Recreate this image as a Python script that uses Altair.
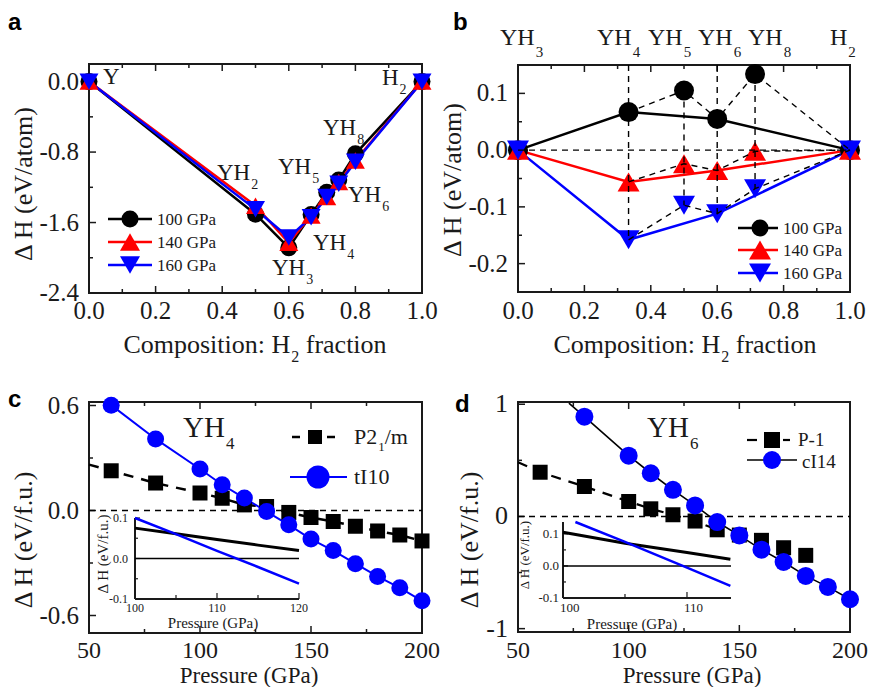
import altair as alt
import pandas as pd

SERIF = "Liberation Serif"
SANS = "Liberation Sans"
INK = "#1a1a1a"

# ---------------- data ----------------
pressures = ["100 GPa", "140 GPa", "160 GPa"]
series_colors = ["#000000", "#ff0000", "#0000ff"]
series_shapes = ["circle", "triangle-up", "triangle-down"]

# panel a : Y-H convex hull, x = H2 fraction
comp_a = [0.0, 0.5, 0.6, 0.667, 0.714, 0.75, 0.8, 1.0]
dH_a_100 = [0.0, -1.505, -1.886, -1.51, -1.257, -1.116, -0.82, 0.0]
dH_a_140 = [0.0, -1.41, -1.83, -1.52, -1.31, -1.14, -0.895, 0.0]
dH_a_160 = [0.0, -1.45, -1.77, -1.54, -1.31, -1.16, -0.91, 0.0]

# panel b : YH3-H2 sub-system
comp_b = [0.0, 0.333, 0.5, 0.6, 0.714, 1.0]
dH_b_100 = [0.0, 0.067, 0.105, 0.055, 0.134, 0.0]
dH_b_140 = [0.0, -0.056, -0.024, -0.036, -0.002, 0.0]
dH_b_160 = [0.0, -0.158, -0.097, -0.112, -0.068, 0.0]
hull_b = [True, True, False, True, False, True]
drop_x_b = [0.333, 0.5, 0.6, 0.714]
drop_top_b = [0.15, 0.105, 0.15, 0.134]
drop_bot_b = [-0.158, -0.097, -0.112, -0.068]

# panel c : YH4
P_c = [60, 80, 100, 110, 120, 130, 140, 150, 160, 170, 180, 190, 200]
dH_c_P21m = [0.227, 0.157, 0.100, 0.070, 0.032, 0.023, -0.011, -0.040, -0.063, -0.090, -0.117, -0.140, -0.174]
dH_c_tI10 = [0.602, 0.409, 0.237, 0.147, 0.071, -0.006, -0.082, -0.163, -0.229, -0.304, -0.377, -0.442, -0.516]
P_c_P21m_line = [50, 60, 80, 100, 110, 120, 130, 140, 150, 160, 170, 180, 190, 200]
dH_c_P21m_line = [0.262, 0.227, 0.157, 0.100, 0.070, 0.032, 0.023, -0.011, -0.040, -0.063, -0.090, -0.117, -0.140, -0.174]

# panel d : YH6
P_d_P1 = [60, 80, 100, 110, 120, 130, 140, 150, 160, 170, 180]
dH_d_P1 = [0.394, 0.267, 0.133, 0.068, 0.015, -0.041, -0.119, -0.166, -0.213, -0.279, -0.347]
P_d_cI14 = [80, 100, 110, 120, 130, 140, 150, 160, 170, 180, 190, 200]
dH_d_cI14 = [0.889, 0.542, 0.385, 0.237, 0.098, -0.050, -0.169, -0.296, -0.406, -0.530, -0.628, -0.738]
P_d_P1_line = [50, 60, 80, 100, 110, 120, 130, 140]
dH_d_P1_line = [0.483, 0.394, 0.267, 0.133, 0.068, 0.015, -0.041, -0.119]
P_d_cI14_line = [73, 80, 100, 110, 120, 130, 140, 150, 160, 170, 180, 190, 200]
dH_d_cI14_line = [1.01, 0.889, 0.542, 0.385, 0.237, 0.098, -0.050, -0.169, -0.296, -0.406, -0.530, -0.628, -0.738]

# insets
P_ic = [100, 105, 110, 115, 120]
dH_ic_P21m = [0.075, 0.061, 0.047, 0.033, 0.020]
dH_ic_tI10 = [0.100, 0.060, 0.019, -0.021, -0.062]
P_id_P1 = [100, 105, 110, 113.5]
dH_id_P1 = [0.105, 0.071, 0.042, 0.021]
P_id_cI14 = [101, 105, 110, 113.5]
dH_id_cI14 = [0.137, 0.075, -0.005, -0.062]

# ticks
comp_ticks_major = [0.0, 0.2, 0.4, 0.6, 0.8, 1.0]
comp_ticks_minor = [0.1, 0.3, 0.5, 0.7, 0.9]
comp_tick_labels = ["0.0", "0.2", "0.4", "0.6", "0.8", "1.0"]
a_y_major = [-2.4, -1.6, -0.8, 0.0]
a_y_minor = [-2.0, -1.2, -0.4]
a_y_labels = ["-2.4", "-1.6", "-0.8", "0.0"]
b_y_major = [-0.2, -0.1, 0.0, 0.1]
b_y_minor = [-0.15, -0.05, 0.05]
b_y_labels = ["-0.2", "-0.1", "0.0", "0.1"]
p_ticks_major = [50, 100, 150, 200]
p_ticks_minor = [75, 125, 175]
p_tick_labels = ["50", "100", "150", "200"]
c_y_major = [-0.6, 0.0, 0.6]
c_y_minor = [-0.3, 0.3]
c_y_labels = ["-0.6", "0.0", "0.6"]
d_y_major = [-1, 0, 1]
d_y_minor = [-0.5, 0.5]
d_y_labels = ["-1", "0", "1"]
ic_x_major = [100, 110, 120]
ic_x_minor = [105, 115]
ic_x_labels = ["100", "110", "120"]
id_x_major = [100, 110]
id_x_minor = [105]
id_x_labels = ["100", "110"]
in_y_major = [-0.1, 0.0, 0.1]
in_y_minor = [-0.05, 0.05]
in_y_labels = ["-0.1", "0.0", "0.1"]


# ---------------- layout helpers (page pixels -> chart pixels) ----------------
def GX(v):
    return v - 13


def GY(v):
    return v - 11


PA = dict(xd=[0, 1], yd=[-2.4, 0.2], x0=94, x1=427, yb=296, yt=67)
PB = dict(xd=[0, 1], yd=[-0.25, 0.15], x0=523, x1=855, yb=295, yt=68)
PC = dict(xd=[50, 200], yd=[-0.7, 0.62], x0=94, x1=427, yb=636, yt=405)
PD = dict(xd=[50, 200], yd=[-1.03, 1.02], x0=523, x1=855, yb=635, yt=405)
IC = dict(xd=[100, 120], yd=[-0.1, 0.1], x0=140, x1=304, yb=602, yt=521)
ID = dict(xd=[100, 113.55], yd=[-0.1, 0.137], x0=568, x1=736, yb=601, yt=525)


def scales(g):
    xs = alt.Scale(domain=g["xd"], range=[GX(g["x0"]), GX(g["x1"])], nice=False, zero=False)
    ys = alt.Scale(domain=g["yd"], range=[GY(g["yb"]), GY(g["yt"])], nice=False, zero=False)
    return xs, ys


def frame(g, xs, ys):
    df = pd.DataFrame({"x": [g["xd"][0]], "x2": [g["xd"][1]], "y": [g["yd"][0]], "y2": [g["yd"][1]]})
    return alt.Chart(df).mark_rect(fillOpacity=0, stroke=INK, strokeWidth=2).encode(
        x=alt.X("x:Q", scale=xs, axis=None), x2="x2:Q",
        y=alt.Y("y:Q", scale=ys, axis=None), y2="y2:Q")


def xticks(vals, xs, ypage, length, w=1.5):
    return alt.Chart(pd.DataFrame({"t": vals})).mark_rule(color=INK, strokeWidth=w).encode(
        x=alt.X("t:Q", scale=xs, axis=None), y=alt.value(GY(ypage)), y2=alt.value(GY(ypage) + length))


def yticks(vals, ys, xpage, length, w=1.5):
    return alt.Chart(pd.DataFrame({"t": vals})).mark_rule(color=INK, strokeWidth=w).encode(
        y=alt.Y("t:Q", scale=ys, axis=None), x=alt.value(GX(xpage)), x2=alt.value(GX(xpage) + length))


def xlabels(vals, labs, xs, base, size, align="center", dx=0):
    return alt.Chart(pd.DataFrame({"t": vals, "lab": labs})).mark_text(
        font=SERIF, fontSize=size, color=INK, align=align, dx=dx, baseline="alphabetic").encode(
        x=alt.X("t:Q", scale=xs, axis=None), y=alt.value(GY(base)), text="lab:N")


def ylabels(vals, labs, ys, right, size):
    return alt.Chart(pd.DataFrame({"t": vals, "lab": labs})).mark_text(
        font=SERIF, fontSize=size, color=INK, align="right", baseline="middle").encode(
        y=alt.Y("t:Q", scale=ys, axis=None), x=alt.value(GX(right)), text="lab:N")


def long_df(xv, yv_list, sizes):
    rows = []
    for p, col, shp, vals, sz in zip(pressures, series_colors, series_shapes, yv_list, sizes):
        for xi, yi in zip(xv, vals):
            rows.append(dict(x=xi, y=yi, series=p, col=col, shp=shp, sz=sz))
    return pd.DataFrame(rows)


def main_panel(g, xmaj, xmin, ymaj, ymin, xlabs, ylabs, xbase, yright, xfs, yfs, data_fn):
    xs, ys = scales(g)
    L = [frame(g, xs, ys),
         xticks(xmaj, xs, g["yb"], -7), xticks(xmin, xs, g["yb"], -4),
         xticks(xmaj, xs, g["yt"], 7), xticks(xmin, xs, g["yt"], 4),
         yticks(ymaj, ys, g["x0"], 7), yticks(ymin, ys, g["x0"], 4),
         xlabels(xmaj, xlabs, xs, xbase, xfs), ylabels(ymaj, ylabs, ys, yright, yfs)]
    L += data_fn(xs, ys)
    return alt.layer(*L)


def inset_panel(g, xmaj, xmin, xlabs, xbase, yright, fs, data_fn, xalign="center", xdx=0):
    xs, ys = scales(g)
    ax = pd.DataFrame({"x": [g["xd"][0]], "x2": [g["xd"][1]], "y": [g["yd"][0]], "y2": [g["yd"][1]]})
    left = alt.Chart(ax).mark_rule(color=INK, strokeWidth=2).encode(
        x=alt.X("x:Q", scale=xs, axis=None), y=alt.Y("y:Q", scale=ys, axis=None), y2="y2:Q")
    bottom = alt.Chart(ax).mark_rule(color=INK, strokeWidth=2).encode(
        x=alt.X("x:Q", scale=xs, axis=None), x2="x2:Q", y=alt.Y("y:Q", scale=ys, axis=None))
    L = [left, bottom,
         xticks(xmaj, xs, g["yb"], -6, 1.2), xticks(xmin, xs, g["yb"], -4, 1.2),
         yticks(in_y_major, ys, g["x0"], 5, 1.2), yticks(in_y_minor, ys, g["x0"], 3, 1.2),
         xlabels(xmaj, xlabs, xs, xbase, fs, xalign, xdx),
         ylabels(in_y_major, in_y_labels, ys, yright, fs)]
    L += data_fn(xs, ys, g)
    return alt.layer(*L)


def XQ(f, xs):
    return alt.X(f, type="quantitative", scale=xs, axis=None)


def YQ(f, ys):
    return alt.Y(f, type="quantitative", scale=ys, axis=None)


# ---------------- panel data layers ----------------
def data_a(xs, ys):
    df = long_df(comp_a, [dH_a_100, dH_a_140, dH_a_160], [289, 361, 361])
    lines = alt.Chart(df).mark_line(strokeWidth=2.5).encode(
        x=XQ("x", xs), y=YQ("y", ys), color=alt.Color("col:N", scale=None), detail="series:N")
    pts = alt.Chart(df).mark_point(filled=True, opacity=1).encode(
        x=XQ("x", xs), y=YQ("y", ys), color=alt.Color("col:N", scale=None),
        shape=alt.Shape("shp:N", scale=None), size=alt.Size("sz:Q", scale=None))
    return [lines, pts]


def data_b(xs, ys):
    df = long_df(comp_b, [dH_b_100, dH_b_140, dH_b_160], [400, 484, 484])
    df["hull"] = hull_b * 3
    solid = alt.Chart(df[df["hull"]]).mark_line(strokeWidth=2.5).encode(
        x=XQ("x", xs), y=YQ("y", ys), color=alt.Color("col:N", scale=None), detail="series:N")
    pts = alt.Chart(df).mark_point(filled=True, opacity=1).encode(
        x=XQ("x", xs), y=YQ("y", ys), color=alt.Color("col:N", scale=None),
        shape=alt.Shape("shp:N", scale=None), size=alt.Size("sz:Q", scale=None))
    dashed = alt.Chart(df[df["x"] >= 0.333]).mark_line(strokeWidth=1.4, color="#000000", strokeDash=[6, 5]).encode(
        x=XQ("x", xs), y=YQ("y", ys), detail="series:N")
    drops = alt.Chart(pd.DataFrame({"x": drop_x_b, "y": drop_top_b, "y2": drop_bot_b})).mark_rule(
        strokeWidth=1.4, color="#000000", strokeDash=[6, 5]).encode(x=XQ("x", xs), y=YQ("y", ys), y2="y2:Q")
    zero = alt.Chart(pd.DataFrame({"x": [0.0], "x2": [1.0], "y": [0.0]})).mark_rule(
        strokeWidth=1.4, color="#000000", strokeDash=[6, 5]).encode(x=XQ("x", xs), x2="x2:Q", y=YQ("y", ys))
    return [solid, pts, zero, drops, dashed]


def zero_dash(xs, ys, x0, x1):
    return alt.Chart(pd.DataFrame({"x": [x0], "x2": [x1], "y": [0.0]})).mark_rule(
        strokeWidth=1.4, color="#000000", strokeDash=[6, 5]).encode(x=XQ("x", xs), x2="x2:Q", y=YQ("y", ys))


def data_c(xs, ys):
    dline = alt.Chart(pd.DataFrame({"x": P_c_P21m_line, "y": dH_c_P21m_line})).mark_line(
        strokeWidth=2.5, color="#000000", strokeDash=[10, 8]).encode(x=XQ("x", xs), y=YQ("y", ys))
    bline = alt.Chart(pd.DataFrame({"x": P_c, "y": dH_c_tI10})).mark_line(
        strokeWidth=2, color="#0000ff").encode(x=XQ("x", xs), y=YQ("y", ys))
    sq = alt.Chart(pd.DataFrame({"x": P_c, "y": dH_c_P21m})).mark_point(
        shape="square", filled=True, opacity=1, color="#000000", size=225).encode(x=XQ("x", xs), y=YQ("y", ys))
    ci = alt.Chart(pd.DataFrame({"x": P_c, "y": dH_c_tI10})).mark_point(
        shape="circle", filled=True, opacity=1, color="#0000ff", size=289).encode(x=XQ("x", xs), y=YQ("y", ys))
    return [zero_dash(xs, ys, 50, 200), dline, bline, sq, ci]


def data_d(xs, ys):
    dline = alt.Chart(pd.DataFrame({"x": P_d_P1_line, "y": dH_d_P1_line})).mark_line(
        strokeWidth=2.2, color="#000000", strokeDash=[10, 8]).encode(x=XQ("x", xs), y=YQ("y", ys))
    kline = alt.Chart(pd.DataFrame({"x": P_d_cI14_line, "y": dH_d_cI14_line})).mark_line(
        strokeWidth=1.6, color="#000000").encode(x=XQ("x", xs), y=YQ("y", ys))
    sq = alt.Chart(pd.DataFrame({"x": P_d_P1, "y": dH_d_P1})).mark_point(
        shape="square", filled=True, opacity=1, color="#000000", size=225).encode(x=XQ("x", xs), y=YQ("y", ys))
    ci = alt.Chart(pd.DataFrame({"x": P_d_cI14, "y": dH_d_cI14})).mark_point(
        shape="circle", filled=True, opacity=1, color="#0000ff", size=324).encode(x=XQ("x", xs), y=YQ("y", ys))
    return [zero_dash(xs, ys, 50, 200), dline, kline, sq, ci]


def inset_lines(pk, vk, pb, vb):
    def fn(xs, ys, g):
        z = alt.Chart(pd.DataFrame({"x": [g["xd"][0]], "x2": [g["xd"][1]], "y": [0.0]})).mark_rule(
            strokeWidth=1.5, color="#000000").encode(x=XQ("x", xs), x2="x2:Q", y=YQ("y", ys))
        k = alt.Chart(pd.DataFrame({"x": pk, "y": vk})).mark_line(strokeWidth=3, color="#000000").encode(
            x=XQ("x", xs), y=YQ("y", ys))
        b = alt.Chart(pd.DataFrame({"x": pb, "y": vb})).mark_line(strokeWidth=2.5, color="#0000ff").encode(
            x=XQ("x", xs), y=YQ("y", ys))
        return [z, k, b]
    return fn


panel_a = main_panel(PA, comp_ticks_major, comp_ticks_minor, a_y_major, a_y_minor,
                     comp_tick_labels, a_y_labels, 322, 84, 25, 25, data_a)
panel_b = main_panel(PB, comp_ticks_major, comp_ticks_minor, b_y_major, b_y_minor,
                     comp_tick_labels, b_y_labels, 322, 513, 25, 25, data_b)
panel_c = main_panel(PC, p_ticks_major, p_ticks_minor, c_y_major, c_y_minor,
                     p_tick_labels, c_y_labels, 661, 84, 24, 25, data_c)
panel_d = main_panel(PD, p_ticks_major, p_ticks_minor, d_y_major, d_y_minor,
                     p_tick_labels, d_y_labels, 661, 513, 24, 26, data_d)
inset_c = inset_panel(IC, ic_x_major, ic_x_minor, ic_x_labels, 615, 133, 12,
                      inset_lines(P_ic, dH_ic_P21m, P_ic, dH_ic_tI10))
inset_d = inset_panel(ID, id_x_major, id_x_minor, id_x_labels, 615, 564, 13,
                      inset_lines(P_id_P1, dH_id_P1, P_id_cI14, dH_id_cI14), xalign="left", xdx=-3)

# ---------------- text with subscripts ----------------
CW = {"Y": .722, "H": .722, "P": .556, "G": .722, "C": .667, "I": .333, "V": .722, "Δ": .612,
      "o": .5, "m": .778, "p": .5, "s": .389, "i": .278, "t": .278, "n": .5, ":": .278, " ": .25,
      "f": .333, "r": .333, "a": .444, "c": .444, "e": .444, "u": .5, "/": .278, "-": .333,
      "(": .333, ")": .333, ".": .25}


def tw(s, size):
    return size * sum(CW.get(ch, 0.5) for ch in s)


def rich(parts, x, y, size, subsize=0, drop=0, center=False):
    items = []
    for t, is_sub in parts:
        fs = subsize if is_sub else size
        lead = len(t) - len(t.lstrip(" "))
        items.append((t.strip(" "), fs, lead * tw(" ", fs), is_sub))
    total = sum(ld + tw(t, fs) + (1 if s else 0) for t, fs, ld, s in items)
    cx = x - total / 2 if center else x
    rows = []
    for t, fs, ld, s in items:
        cx += ld + (1 if s else 0)
        rows.append({"text": t, "x": GX(cx), "y": GY(y + (drop if s else 0)), "fs": fs})
        cx += tw(t, fs)
    return rows


rows = []
# panel a phase labels
rows += rich([("Y", 0)], 108, 87, 23)
rows += rich([("H", 0), ("2", 1)], 387, 88, 23, 14, 9)
for sub, x, y in [("8", 328, 138), ("2", 222, 183), ("5", 283, 177), ("6", 353, 205),
                  ("4", 318, 253), ("3", 277, 278)]:
    rows += rich([("YH", 0), (sub, 1)], x, y, 23, 14, 9)
# panel b top labels
for base, sub, x in [("YH", "3", 505), ("YH", "4", 602), ("YH", "5", 653), ("YH", "6", 703),
                     ("YH", "8", 753), ("H", "2", 835)]:
    rows += rich([(base, 0), (sub, 1)], x, 48, 24, 15, 12)
# panel c / d compound labels
rows += rich([("YH", 0), ("4", 1)], 188, 440, 29, 17, 12)
rows += rich([("YH", 0), ("6", 1)], 652, 440, 29, 17, 12)
# legends
for lab, y in zip(pressures, [228, 251, 274]):
    rows += rich([(lab, 0)], 162, y, 17)
for lab, y in zip(pressures, [237, 259, 282]):
    rows += rich([(lab, 0)], 788, y, 17)
rows += rich([("P2", 0), ("1", 1), ("/m", 0)], 359, 447, 22, 13, 7)
rows += rich([("tI10", 0)], 359, 487, 22)
rows += rich([("P-1", 0)], 803, 449, 19)
rows += rich([("cI14", 0)], 807, 471, 19)
# axis titles
rows += rich([("Composition: H", 0), ("2", 1), (" fraction", 0)], 260, 356, 26, 16, 9, center=True)
rows += rich([("Composition: H", 0), ("2", 1), (" fraction", 0)], 690, 356, 26, 16, 9, center=True)
rows += rich([("Pressure (GPa)", 0)], 254, 686, 23, center=True)
rows += rich([("Pressure (GPa)", 0)], 697, 686, 23, center=True)
rows += rich([("Pressure (GPa)", 0)], 218, 631, 15, center=True)
rows += rich([("Pressure (GPa)", 0)], 637, 632, 15, center=True)

texts = alt.Chart(pd.DataFrame(rows)).mark_text(
    font=SERIF, align="left", baseline="alphabetic", color=INK).encode(
    x=alt.X("x:Q", scale=None, axis=None), y=alt.Y("y:Q", scale=None, axis=None),
    text="text:N", size=alt.Size("fs:Q", scale=None))

rot_rows = [
    {"text": "Δ H (eV/atom)", "x": GX(29), "y": GY(187), "fs": 26},
    {"text": "Δ H (eV/atom)", "x": GX(458), "y": GY(183), "fs": 26},
    {"text": "Δ H (eV/f.u.)", "x": GX(29), "y": GY(543), "fs": 26},
    {"text": "Δ H (eV/f.u.)", "x": GX(475), "y": GY(543), "fs": 26},
    {"text": "Δ H (eV/f.u.)", "x": GX(108), "y": GY(557), "fs": 15},
    {"text": "Δ H (eV/f.u.)", "x": GX(530), "y": GY(558), "fs": 13},
]
rot_texts = alt.Chart(pd.DataFrame(rot_rows)).mark_text(
    font=SERIF, align="center", baseline="middle", angle=270, color=INK).encode(
    x=alt.X("x:Q", scale=None, axis=None), y=alt.Y("y:Q", scale=None, axis=None),
    text="text:N", size=alt.Size("fs:Q", scale=None))

letters = alt.Chart(pd.DataFrame({
    "text": ["a", "b", "c", "d"],
    "x": [GX(13), GX(458), GX(13), GX(460)],
    "y": [GY(33), GY(33), GY(410), GY(415)]})).mark_text(
    font=SANS, fontWeight="bold", fontSize=24, align="left", baseline="alphabetic", color="#000000").encode(
    x=alt.X("x:Q", scale=None, axis=None), y=alt.Y("y:Q", scale=None, axis=None), text="text:N")

# legend glyphs (layout positions)
leg_lines = pd.DataFrame([
    dict(x1=GX(113), x2=GX(157), y=GY(222), col="#000000", w=2.5),
    dict(x1=GX(113), x2=GX(157), y=GY(245), col="#ff0000", w=2.5),
    dict(x1=GX(113), x2=GX(157), y=GY(268), col="#0000ff", w=2.5),
    dict(x1=GX(743), x2=GX(783), y=GY(231), col="#000000", w=2.5),
    dict(x1=GX(743), x2=GX(783), y=GY(253), col="#ff0000", w=2.5),
    dict(x1=GX(743), x2=GX(783), y=GY(276), col="#0000ff", w=2.5),
    dict(x1=GX(297), x2=GX(305), y=GY(440), col="#000000", w=2.5),
    dict(x1=GX(332), x2=GX(340), y=GY(440), col="#000000", w=2.5),
    dict(x1=GX(295), x2=GX(352), y=GY(480), col="#0000ff", w=2.0),
    dict(x1=GX(752), x2=GX(762), y=GY(443), col="#000000", w=2.2),
    dict(x1=GX(788), x2=GX(795), y=GY(443), col="#000000", w=2.2),
    dict(x1=GX(752), x2=GX(802), y=GY(463), col="#000000", w=1.6),
])
leg_syms = pd.DataFrame([
    dict(x=GX(135), y=GY(222), shp="circle", col="#000000", sz=289),
    dict(x=GX(135), y=GY(245), shp="triangle-up", col="#ff0000", sz=400),
    dict(x=GX(135), y=GY(268), shp="triangle-down", col="#0000ff", sz=400),
    dict(x=GX(765), y=GY(231), shp="circle", col="#000000", sz=289),
    dict(x=GX(765), y=GY(253), shp="triangle-up", col="#ff0000", sz=484),
    dict(x=GX(765), y=GY(276), shp="triangle-down", col="#0000ff", sz=484),
    dict(x=GX(320), y=GY(440), shp="square", col="#000000", sz=196),
    dict(x=GX(323), y=GY(480), shp="circle", col="#0000ff", sz=529),
    dict(x=GX(777), y=GY(443), shp="square", col="#000000", sz=256),
    dict(x=GX(777), y=GY(463), shp="circle", col="#0000ff", sz=324),
])
leg_line_layer = alt.Chart(leg_lines).mark_rule().encode(
    x=alt.X("x1:Q", scale=None, axis=None), x2="x2:Q", y=alt.Y("y:Q", scale=None, axis=None),
    color=alt.Color("col:N", scale=None), strokeWidth=alt.StrokeWidth("w:Q", scale=None))
leg_sym_layer = alt.Chart(leg_syms).mark_point(filled=True, opacity=1).encode(
    x=alt.X("x:Q", scale=None, axis=None), y=alt.Y("y:Q", scale=None, axis=None),
    color=alt.Color("col:N", scale=None), shape=alt.Shape("shp:N", scale=None),
    size=alt.Size("sz:Q", scale=None))

chart = alt.layer(
    panel_a, panel_b, panel_c, panel_d, inset_c, inset_d,
    leg_line_layer, leg_sym_layer, texts, rot_texts, letters
).resolve_scale(x="independent", y="independent").properties(
    width=861, height=679, autosize=alt.AutoSizeParams(type="none"), padding=0
).configure_view(strokeWidth=0)

chart.save("out.html", embed_options={"renderer": "svg", "actions": False})
